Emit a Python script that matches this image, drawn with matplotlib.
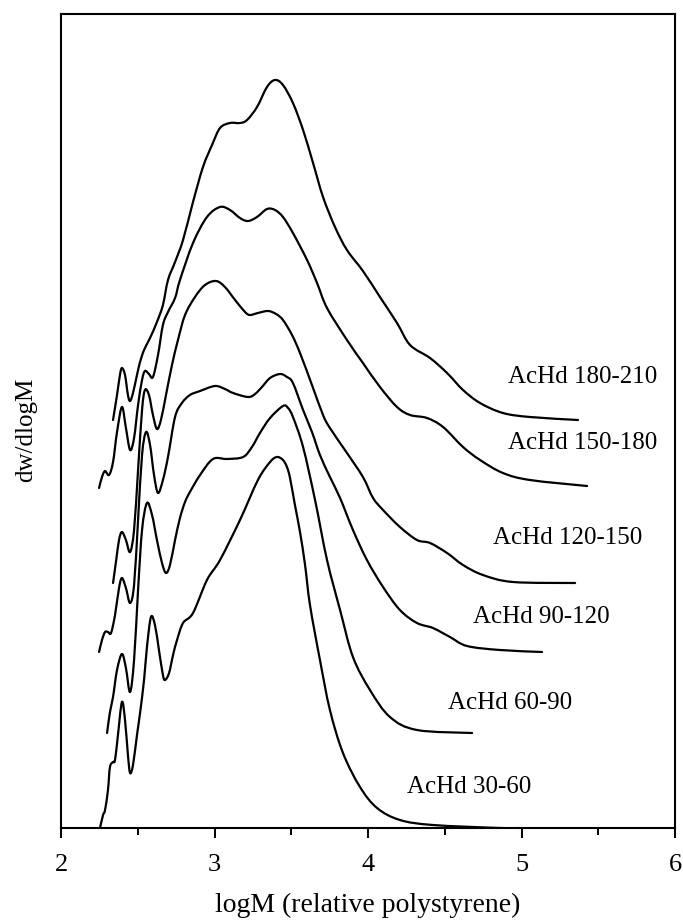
import matplotlib
matplotlib.use('Agg')
import matplotlib.pyplot as plt
from matplotlib.ticker import MultipleLocator
from matplotlib.path import Path
from matplotlib.patches import PathPatch
import numpy as np

plt.rcParams['font.family'] = ['Liberation Serif', 'DejaVu Serif']

# ---- data (logM, dw/dlogM in arbitrary stacked units) ----
logM_180_210 = [2.339, 2.365, 2.384, 2.397, 2.417, 2.436, 2.450, 2.469, 2.495, 2.515, 2.541, 2.580,
                2.625, 2.664, 2.697, 2.743, 2.795, 2.860, 2.925, 2.984, 3.036, 3.101, 3.166, 3.212,
                3.277, 3.342, 3.394, 3.446, 3.511, 3.577, 3.642, 3.707, 3.785, 3.863, 3.967, 4.078,
                4.189, 4.274, 4.404, 4.515, 4.619, 4.730, 4.879, 5.055, 5.368]
dw_180_210 = [408, 433, 453, 460, 453, 433, 427, 435, 453, 466, 478, 490,
              506, 523, 548, 566, 588, 626, 661, 683, 700, 705, 705, 708,
              721, 741, 748, 743, 725, 698, 665, 631, 601, 578, 557, 531,
              505, 483, 470, 455, 438, 425, 415, 411, 408]

logM_150_180 = [2.248, 2.267, 2.287, 2.313, 2.339, 2.365, 2.397, 2.423, 2.450, 2.476, 2.502, 2.528,
                2.547, 2.573, 2.599, 2.632, 2.664, 2.697, 2.743, 2.775, 2.860, 2.951, 3.036, 3.101,
                3.166, 3.218, 3.277, 3.342, 3.394, 3.446, 3.511, 3.603, 3.668, 3.733, 3.863, 3.967,
                4.078, 4.189, 4.274, 4.384, 4.489, 4.619, 4.730, 4.879, 5.055, 5.427]
dw_150_180 = [340, 351, 357, 353, 366, 396, 421, 400, 378, 390, 423, 448,
              457, 454, 451, 473, 503, 516, 530, 548, 585, 611, 621, 618,
              610, 607, 611, 619, 618, 611, 595, 568, 545, 520, 488, 465,
              441, 421, 413, 410, 401, 381, 368, 355, 348, 342]

logM_120_150 = [2.339, 2.358, 2.378, 2.397, 2.423, 2.450, 2.476, 2.502, 2.528, 2.547, 2.573, 2.599,
                2.625, 2.651, 2.684, 2.723, 2.762, 2.808, 2.873, 2.938, 3.010, 3.068, 3.134, 3.199,
                3.231, 3.283, 3.349, 3.401, 3.446, 3.505, 3.557, 3.635, 3.707, 3.752, 3.863, 3.967,
                4.033, 4.098, 4.208, 4.319, 4.404, 4.515, 4.619, 4.749, 4.945, 5.349]
dw_120_150 = [245, 266, 288, 296, 288, 276, 298, 358, 418, 438, 433, 413,
              399, 408, 433, 463, 488, 513, 531, 543, 547, 541, 528, 516,
              513, 515, 517, 514, 508, 493, 475, 443, 413, 400, 375, 351,
              330, 318, 301, 288, 285, 275, 263, 253, 246, 245]

logM_90_120 = [2.248, 2.267, 2.287, 2.306, 2.326, 2.352, 2.378, 2.397, 2.423, 2.450, 2.476, 2.502,
               2.528, 2.554, 2.580, 2.606, 2.632, 2.664, 2.697, 2.743, 2.788, 2.840, 2.906, 3.003,
               3.068, 3.121, 3.218, 3.264, 3.309, 3.362, 3.427, 3.472, 3.511, 3.577, 3.635, 3.687,
               3.752, 3.818, 3.902, 3.993, 4.098, 4.208, 4.319, 4.423, 4.534, 4.645, 4.860, 5.134]
dw_90_120 = [176, 188, 196, 196, 195, 213, 240, 250, 240, 225, 243, 308,
             373, 396, 383, 353, 335, 348, 371, 411, 425, 433, 437, 442,
             439, 435, 431, 434, 441, 450, 454, 451, 445, 418, 396, 373,
             351, 330, 298, 268, 241, 218, 205, 200, 191, 182, 178, 176]

logM_60_90 = [2.300, 2.319, 2.339, 2.365, 2.397, 2.423, 2.450, 2.476, 2.502, 2.528, 2.560, 2.593,
              2.625, 2.658, 2.684, 2.710, 2.743, 2.775, 2.808, 2.840, 2.906, 2.990, 3.081, 3.186,
              3.244, 3.296, 3.362, 3.446, 3.479, 3.511, 3.577, 3.655, 3.733, 3.818, 3.902, 4.013,
              4.143, 4.319, 4.678]
dw_60_90 = [95, 116, 131, 158, 174, 160, 136, 168, 238, 298, 325, 313,
            288, 265, 255, 263, 288, 310, 326, 336, 353, 369, 369, 371,
            381, 395, 410, 422, 420, 411, 381, 328, 268, 218, 171, 138,
            111, 98, 95]

logM_30_60 = [2.254, 2.274, 2.287, 2.306, 2.319, 2.339, 2.352, 2.371, 2.397, 2.417, 2.436, 2.450,
              2.469, 2.495, 2.515, 2.541, 2.560, 2.586, 2.612, 2.638, 2.664, 2.678, 2.704, 2.730,
              2.756, 2.795, 2.860, 2.951, 3.036, 3.166, 3.283, 3.362, 3.407, 3.446, 3.472, 3.492,
              3.524, 3.557, 3.590, 3.622, 3.687, 3.752, 3.837, 3.948, 4.059, 4.208, 4.423, 4.860,
              4.980]
dw_30_60 = [0, 13, 18, 38, 61, 66, 68, 93, 126, 108, 73, 55,
            63, 93, 115, 148, 181, 211, 203, 178, 153, 148, 155, 173,
            188, 205, 215, 248, 268, 308, 348, 366, 371, 368, 361, 350,
            323, 296, 263, 223, 168, 118, 75, 41, 20, 8, 3, 0,
            0]

series = [
    (logM_180_210, dw_180_210),
    (logM_150_180, dw_150_180),
    (logM_120_150, dw_120_150),
    (logM_90_120, dw_90_120),
    (logM_60_90, dw_60_90),
    (logM_30_60, dw_30_60),
]

label_texts = ['AcHd 180-210', 'AcHd 150-180', 'AcHd 120-150', 'AcHd 90-120', 'AcHd 60-90', 'AcHd 30-60']
label_x = [4.912, 4.912, 4.814, 4.684, 4.521, 4.254]
label_y = [451, 385, 290, 211, 125, 41]

xticks = [2, 3, 4, 5, 6]


def smooth_path(xs, ys):
    """Smooth line through the read points (Catmull-Rom rendered as cubic Beziers)."""
    p = np.column_stack([xs, ys]).astype(float)
    n = len(p)
    verts = [p[0]]
    codes = [Path.MOVETO]
    for i in range(n - 1):
        p0 = p[i - 1] if i > 0 else p[i]
        p1 = p[i]
        p2 = p[i + 1]
        p3 = p[i + 2] if i + 2 < n else p[i + 1]
        c1 = p1 + (p2 - p0) / 6.0
        c2 = p2 - (p3 - p1) / 6.0
        verts += [c1, c2, p2]
        codes += [Path.CURVE4] * 3
    return Path(verts, codes)


# ---- figure ----
fig = plt.figure(figsize=(6.83, 9.24), dpi=100)
ax = fig.add_axes([61 / 683, (924 - 828) / 924, 614 / 683, 814 / 924])

for xs, ys in series:
    ax.add_patch(PathPatch(smooth_path(xs, ys), facecolor='none', edgecolor='black',
                           lw=1.6, joinstyle='round', capstyle='round'))

for t, x, y in zip(label_texts, label_x, label_y):
    ax.text(x, y, t, ha='left', va='center', fontsize=18)

ax.set_xlim(2, 6)
ax.set_ylim(0, 814)
ax.set_xticks(xticks)
ax.set_xticklabels([str(v) for v in xticks])
ax.xaxis.set_minor_locator(MultipleLocator(0.5))
ax.set_yticks([])
ax.tick_params(axis='x', which='major', direction='out', length=7, width=1.4,
               labelsize=19, pad=12)
ax.tick_params(axis='x', which='minor', direction='out', length=5, width=1.4)
for s in ax.spines.values():
    s.set_linewidth(1.5)

ax.set_xlabel('logM (relative polystyrene)', fontsize=20, labelpad=12)
fig.text(26 / 683, 1 - 430 / 924, 'dw/dlogM', rotation=90, ha='center', va='center',
         fontsize=18)

fig.savefig('out.png', dpi=100)
